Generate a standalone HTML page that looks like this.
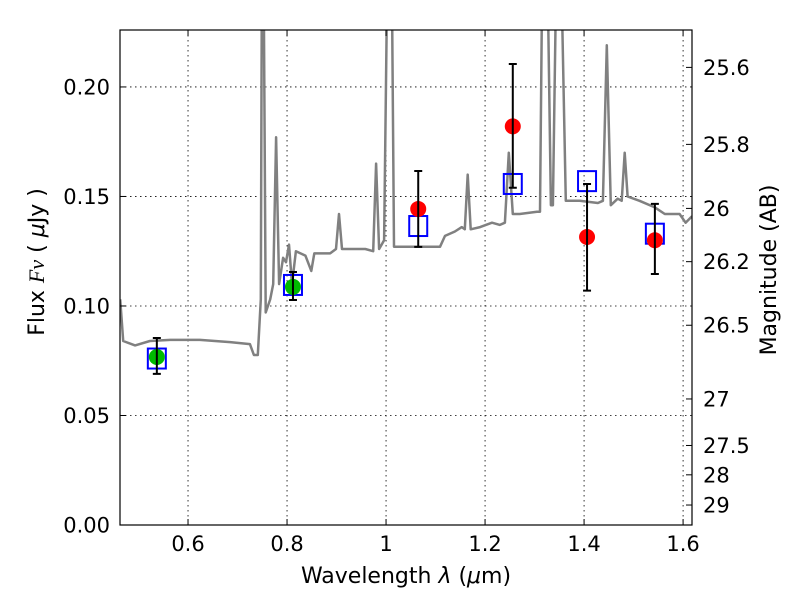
<!DOCTYPE html>
<html><head><meta charset="utf-8"><style>
body{margin:0;background:#fff}
svg{font-family:"DejaVu Sans","Liberation Sans",sans-serif}
</style></head><body>
<svg id="chart" width="800" height="600" xmlns="http://www.w3.org/2000/svg">
<rect width="800" height="600" fill="#fff"/>
<g id="grid"></g>
<g id="spec"></g>
<g id="marks"></g>
<g id="axes"></g>
</svg>
<script>
const specLam=[0.463,0.469,0.493,0.523,0.564,0.624,0.685,0.725,0.733,0.741,0.747,0.749,0.753,0.757,0.766,0.772,0.778,0.784,0.792,0.798,0.804,0.810,0.818,0.837,0.849,0.855,0.887,0.899,0.905,0.911,0.958,0.974,0.980,0.986,0.996,1.002,1.012,1.016,1.048,1.079,1.109,1.119,1.139,1.153,1.159,1.165,1.171,1.190,1.214,1.230,1.240,1.248,1.256,1.270,1.305,1.311,1.315,1.327,1.333,1.337,1.343,1.355,1.363,1.391,1.428,1.438,1.446,1.454,1.468,1.476,1.482,1.488,1.512,1.543,1.563,1.593,1.605,1.618];
const specFlux=[0.103,0.084,0.082,0.084,0.0845,0.0845,0.0835,0.0826,0.0776,0.0776,0.103,0.24,0.24,0.097,0.103,0.110,0.177,0.110,0.122,0.120,0.128,0.110,0.125,0.123,0.116,0.124,0.124,0.126,0.142,0.126,0.126,0.125,0.165,0.126,0.130,0.24,0.24,0.127,0.127,0.127,0.127,0.132,0.134,0.136,0.135,0.160,0.135,0.136,0.138,0.137,0.138,0.170,0.142,0.142,0.143,0.143,0.24,0.24,0.146,0.146,0.24,0.24,0.148,0.148,0.147,0.148,0.219,0.146,0.149,0.148,0.170,0.150,0.148,0.145,0.142,0.142,0.138,0.141];
const obsLam=[0.537,0.812,1.065,1.256,1.406,1.543];
const obsFlux=[0.0767,0.1087,0.1443,0.182,0.1315,0.130];
const obsErrHi=[0.0854,0.1155,0.1616,0.2105,0.1557,0.1466];
const obsErrLo=[0.069,0.1027,0.127,0.154,0.107,0.1146];
const obsColor=["#00bb00","#00bb00","red","red","red","red"];
const modelFlux=[0.076,0.1096,0.1365,0.1557,0.157,0.133];
const xTicks=[0.6,0.8,1.0,1.2,1.4,1.6];
const xTickLabels=["0.6","0.8","1","1.2","1.4","1.6"];
const yTicks=[0,0.05,0.10,0.15,0.20];
const yTickLabels=["0.00","0.05","0.10","0.15","0.20"];
const magTicks=[25.6,25.8,26,26.2,26.5,27,27.5,28,29];
const magTickLabels=["25.6","25.8","26","26.2","26.5","27","27.5","28","29"];

const X0=120,X1=692,Y0=525,Y1=30,xmin=0.4626,xmax=1.618,ymin=0,ymax=0.226;
const sx=v=>X0+(v-xmin)/(xmax-xmin)*(X1-X0);
const sy=v=>Y0-(v-ymin)/(ymax-ymin)*(Y0-Y1);
const NS="http://www.w3.org/2000/svg";
function mk(tag,attrs,parent,text){const e=document.createElementNS(NS,tag);for(const k in attrs)e.setAttribute(k,attrs[k]);if(text!==undefined)e.textContent=text;(typeof parent==='string'?document.getElementById(parent):parent).appendChild(e);return e;}

const defs=mk('defs',{},document.getElementById('chart'));
const cp=mk('clipPath',{id:'clip'},defs);
mk('rect',{x:X0,y:Y1,width:X1-X0,height:Y0-Y1},cp);
document.getElementById('spec').setAttribute('clip-path','url(#clip)');

xTicks.forEach((t,i)=>{
  const x=sx(t);
  const g=mk('line',{x1:x,x2:x,y1:Y1,y2:Y0,stroke:'#000','stroke-width':0.8,'stroke-dasharray':'1.5,3.5'},'grid');
  
  
  mk('line',{x1:x,x2:x,y1:Y0,y2:Y0-6,stroke:'#000'},'axes');
  mk('line',{x1:x,x2:x,y1:Y1,y2:Y1+6,stroke:'#000'},'axes');
  const l=mk('text',{x:x,y:551,'font-size':21,'text-anchor':'middle'},'axes',xTickLabels[i]);
  
  
});
yTicks.forEach((t,i)=>{
  const y=sy(t);
  const g=mk('line',{x1:X0,x2:X1,y1:y,y2:y,stroke:'#000','stroke-width':0.8,'stroke-dasharray':'1.5,3.5'},'grid');
  
  
  mk('line',{x1:X0,x2:X0+6,y1:y,y2:y,stroke:'#000'},'axes');
  const l=mk('text',{x:110,y:y+7.5,'font-size':21,'text-anchor':'end'},'axes',yTickLabels[i]);
  
  
});
magTicks.forEach((m,i)=>{
  const f=Math.pow(10,(23.9-m)/2.5);
  const y=sy(f);
  mk('line',{x1:X1,x2:X1-6,y1:y,y2:y,stroke:'#000'},'axes');
  const l=mk('text',{x:703,y:y+7.5,'font-size':21},'axes',magTickLabels[i]);
  
  
});

let d='';specLam.forEach((l,i)=>{d+=(i?'L':'M')+sx(l).toFixed(1)+','+sy(specFlux[i]).toFixed(1);});
const sp=mk('path',{d:d,fill:'none',stroke:'#808080','stroke-width':2.5,'stroke-linejoin':'round'},'spec');



modelFlux.forEach((f,i)=>{
  const r=mk('rect',{x:sx(obsLam[i])-9,y:sy(f)-10,width:18,height:20,fill:'none',stroke:'blue','stroke-width':2},'marks');
  
  
});
obsLam.forEach((l,i)=>{
  const x=sx(l);
  const c=mk('circle',{cx:x,cy:sy(obsFlux[i]),r:8,fill:obsColor[i]},'marks');
  
  
  const e=mk('path',{d:`M${x},${sy(obsErrHi[i])}V${sy(obsErrLo[i])}M${x-4},${sy(obsErrHi[i])}h8M${x-4},${sy(obsErrLo[i])}h8`,stroke:'#000','stroke-width':2,fill:'none'},'marks');
  
  
});

const fr=mk('rect',{x:X0,y:Y1,width:X1-X0,height:Y0-Y1,fill:'none',stroke:'#000','stroke-width':1.2},'axes');


const xl=mk('text',{x:406,y:583,'font-size':22,'text-anchor':'middle'},'axes');


mk('tspan',{},xl,'Wavelength  ');
mk('tspan',{'font-style':'italic'},xl,'λ');
mk('tspan',{},xl,' (');
mk('tspan',{'font-style':'italic'},xl,'μ');
mk('tspan',{},xl,'m)');
const yl=mk('text',{x:0,y:0,'font-size':22,'text-anchor':'middle',transform:'translate(44,262) rotate(-90)'},'axes');


mk('tspan',{},yl,'Flux  ');
mk('tspan',{'font-style':'italic','font-family':'Liberation Serif, serif'},yl,'Fν');
mk('tspan',{},yl,'  ( ');
mk('tspan',{'font-style':'italic'},yl,'μ');
mk('tspan',{},yl,'Jy )');
const ml=mk('text',{x:0,y:0,'font-size':22,'text-anchor':'middle',transform:'translate(776,270) rotate(-90)'},'axes','Magnitude (AB)');


</script>
</body></html>
